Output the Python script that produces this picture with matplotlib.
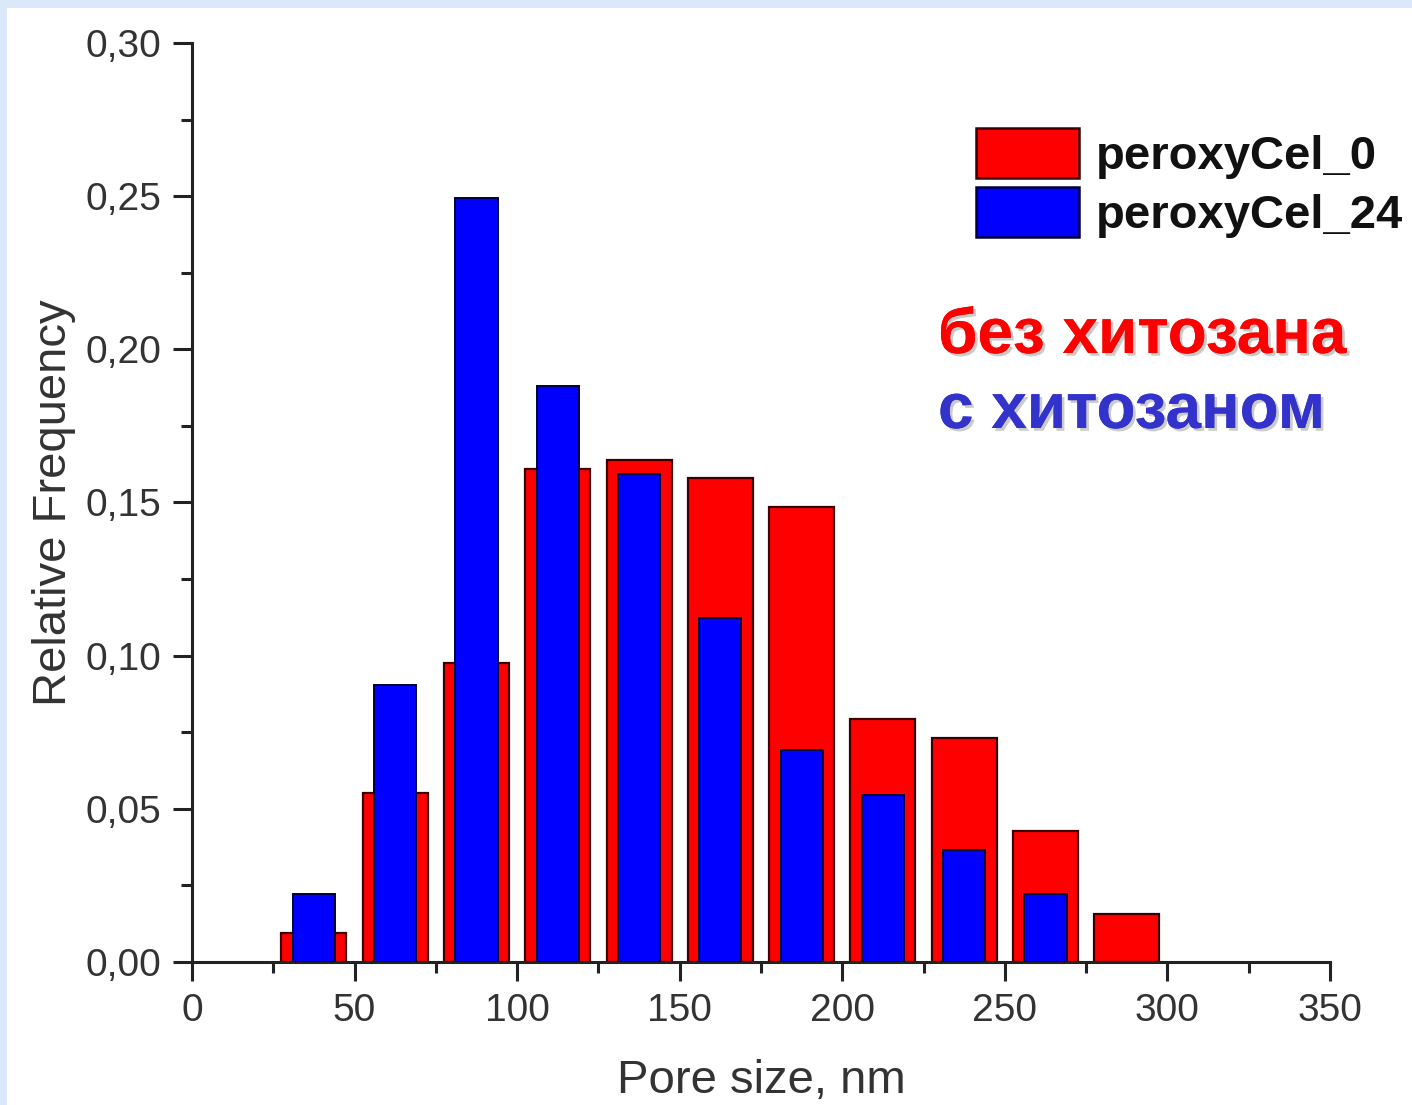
import matplotlib
matplotlib.use("Agg")
import matplotlib.pyplot as plt
from matplotlib.patches import Rectangle, Patch
from matplotlib.ticker import MultipleLocator, FuncFormatter
import matplotlib.patheffects as pe

plt.rcParams['font.family'] = ['Liberation Sans', 'DejaVu Sans']

bin_centers = [37.5, 62.5, 87.5, 112.5, 137.5, 162.5, 187.5, 212.5, 237.5, 262.5, 287.5]
freq_cel0 = [0.0095, 0.0552, 0.0976, 0.161, 0.164, 0.158, 0.1485, 0.0793, 0.0731, 0.0428, 0.0157]
freq_cel24 = [0.0222, 0.0904, 0.2494, 0.188, 0.1593, 0.1123, 0.0692, 0.0545, 0.0366, 0.0222, 0.0]
series_labels = ["peroxyCel_0", "peroxyCel_24"]
note_lines = ["без хитозана", "с хитозаном"]

W, H = 1412, 1105
fig = plt.figure(figsize=(W / 100, H / 100), dpi=100)
fig.patch.set_facecolor('#dbe8f9')
fig.patches.append(Rectangle((7 / W, 0), 1, 1 - 8 / H, transform=fig.transFigure,
                             facecolor='white', edgecolor='none', zorder=-10))

ax = fig.add_axes([192 / W, 1 - 962 / H, (1330 - 192) / W, (962 - 43) / H])
ax.set_facecolor('none')

ax.bar(bin_centers, freq_cel0, width=20, color='#ff0000', edgecolor='#3a0000', linewidth=1.6, zorder=2)
c24 = [(c, v) for c, v in zip(bin_centers, freq_cel24) if v > 0]
ax.bar([c for c, v in c24], [v for c, v in c24], width=13, color='#0000ff',
       edgecolor='#00003a', linewidth=1.4, zorder=3)

ax.set_xlim(0, 350)
ax.set_ylim(0, 0.30)
ax.spines['top'].set_visible(False)
ax.spines['right'].set_visible(False)
for s in ('left', 'bottom'):
    ax.spines[s].set_linewidth(2.2)
    ax.spines[s].set_color('#222222')

ax.xaxis.set_major_locator(MultipleLocator(50))
ax.xaxis.set_minor_locator(MultipleLocator(25))
ax.yaxis.set_major_locator(MultipleLocator(0.05))
ax.yaxis.set_minor_locator(MultipleLocator(0.025))
ax.yaxis.set_major_formatter(FuncFormatter(lambda v, p: f"{v:.2f}".replace('.', ',')))
ax.tick_params(which='major', direction='out', length=14, width=2.2, color='#222222',
               labelsize=28, labelcolor='#333333', pad=8)
ax.tick_params(which='minor', direction='out', length=8, width=2.2, color='#222222')

ax.set_xlabel("Pore size, nm", fontsize=34, color='#333333', labelpad=22)
ax.set_ylabel("Relative Frequency", fontsize=34, color='#333333', labelpad=7)

handles = [Patch(facecolor='#ff0000', edgecolor='#3a0000', linewidth=1.8),
           Patch(facecolor='#0000ff', edgecolor='#00003a', linewidth=1.8)]
leg = fig.legend(handles, series_labels, loc='upper left', bbox_to_anchor=(976 / W, 1 - 128 / H),
                 frameon=False, prop={'weight': 'bold', 'size': 34},
                 handlelength=2.18, handleheight=1.25, labelspacing=0.17,
                 handletextpad=0.36, borderaxespad=0, borderpad=0)
for t in leg.get_texts():
    t.set_color('#111111')

shadow = [pe.withSimplePatchShadow(offset=(2, -2), shadow_rgbFace='#999999', alpha=0.5), pe.Normal()]
fig.text(938 / W, 1 - 336 / H, note_lines[0], fontsize=46,
         fontweight='bold', color='#ff0000', va='center', ha='left', path_effects=shadow)
fig.text(938 / W, 1 - 411 / H, note_lines[1], fontsize=46,
         fontweight='bold', color='#3333cc', va='center', ha='left', path_effects=shadow)

fig.savefig("out.png", dpi=100, facecolor=fig.get_facecolor())
